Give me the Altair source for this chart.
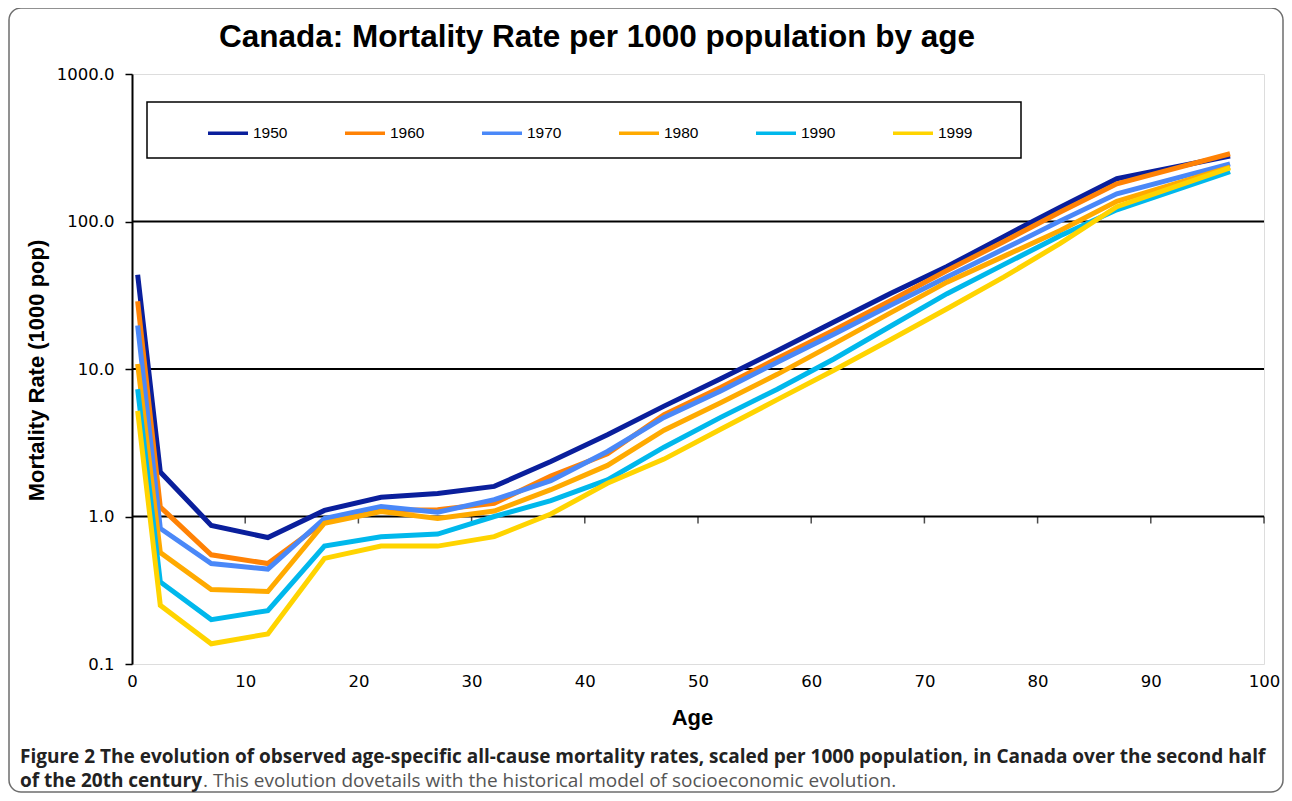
import altair as alt
import pandas as pd

# ---------------- data ----------------
ages = [0.5, 2.5, 7, 12, 17, 22, 27, 32, 37, 42, 47, 52, 57, 62, 67, 72, 77, 82, 87, 97]
years = ["1950", "1960", "1970", "1980", "1990", "1999"]
rate_1950 = [43.5, 2.0, 0.87, 0.72, 1.10, 1.35, 1.43, 1.60, 2.36, 3.58, 5.6, 8.6, 13.3, 20.8, 32.5, 49.5, 79, 125, 195, 278]
rate_1960 = [28.8, 1.16, 0.55, 0.48, 0.92, 1.10, 1.11, 1.23, 1.88, 2.66, 4.9, 7.5, 11.8, 18.3, 29, 46.5, 73, 116, 180, 288]
rate_1970 = [19.7, 0.83, 0.48, 0.44, 0.97, 1.17, 1.07, 1.30, 1.75, 2.76, 4.7, 7.1, 11.1, 17.2, 27, 42, 65, 101, 154, 246]
rate_1980 = [10.8, 0.57, 0.32, 0.31, 0.90, 1.08, 0.97, 1.09, 1.52, 2.22, 3.85, 5.9, 9.2, 14.8, 24, 38.8, 58, 87, 137, 234]
rate_1990 = [7.3, 0.36, 0.20, 0.23, 0.63, 0.73, 0.76, 1.00, 1.28, 1.77, 2.95, 4.7, 7.3, 11.7, 19.5, 32.4, 51, 80, 120, 218]
rate_1999 = [5.2, 0.25, 0.137, 0.16, 0.52, 0.63, 0.63, 0.73, 1.04, 1.68, 2.45, 3.9, 6.2, 9.8, 15.8, 25.6, 42, 71, 126, 231]
series = [rate_1950, rate_1960, rate_1970, rate_1980, rate_1990, rate_1999]
colors = ["#0A1F9C", "#FF8205", "#4A88F8", "#FFAA00", "#00B8EC", "#FFD400"]

y_ticks = [0.1, 1, 10, 100, 1000]
x_ticks = [0, 10, 20, 30, 40, 50, 60, 70, 80, 90, 100]
grid_values = [1, 10, 100]
age_tick_marks = [10, 20, 30, 40, 50, 60, 70, 80, 90, 100]

title_text = "Canada: Mortality Rate per 1000 population by age"
x_title = "Age"
y_title = "Mortality Rate (1000 pop)"
caption_bold_1 = ("Figure 2 The evolution of observed age-specific all-cause mortality rates, "
                  "scaled per 1000 population, in Canada over the second half")
caption_bold_2 = "of the 20th century"
caption_normal_2 = ". This evolution dovetails with the historical model of socioeconomic evolution."

# ---------------- tables ----------------
rows = []
for i, (yr, vals) in enumerate(zip(years, series)):
    for a, v in zip(ages, vals):
        rows.append({"age": a, "rate": v, "year": yr, "k": i})
df = pd.DataFrame(rows)
grid_df = pd.DataFrame({"g": grid_values})
tick_df = pd.DataFrame({"t": age_tick_marks})
one = pd.DataFrame({"k": [0]})

W, H = 1132, 590
x_scale = alt.Scale(domain=[0, 100], nice=False, zero=False)
y_scale = alt.Scale(type="log", domain=[0.1, 1000], nice=False)

x_axis = alt.Axis(values=x_ticks, format="d", title=x_title, domain=False, ticks=False,
                  grid=False, labelFont="DejaVu Sans", labelFontSize=16.5, labelColor="black",
                  labelPadding=9, titleFont="Liberation Sans", titleFontSize=22,
                  titleFontWeight="bold", titleColor="black", titleX=560, titleY=53,
                  titleAlign="center", titleBaseline="middle", labelFlush=False)
y_axis = alt.Axis(values=y_ticks, format=".1f", title=y_title, grid=False,
                  domainColor="black", domainWidth=2, tickColor="black", tickWidth=1.5,
                  tickSize=7, labelFont="DejaVu Sans", labelFontSize=16.5, labelColor="black",
                  labelPadding=11, titleFont="Liberation Sans", titleFontSize=22,
                  titleFontWeight="bold", titleColor="black", titleX=-96, titleY=296,
                  titleAlign="center", titleBaseline="middle", labelFlush=False)

# figure frame (outline only)
frame = alt.Chart(one).mark_rect(
    filled=False, stroke="#6e6e6e", strokeWidth=1.5, cornerRadius=12
).encode(x=alt.value(-123), x2=alt.value(1151), y=alt.value(-66), y2=alt.value(718))

# legend box
legend_box = alt.Chart(one).mark_rect(
    fill="white", stroke="black", strokeWidth=1.5
).encode(x=alt.value(15), x2=alt.value(889), y=alt.value(28), y2=alt.value(84))

grid = alt.Chart(grid_df).mark_rule(color="black", strokeWidth=2).encode(
    y=alt.Y("g:Q", scale=y_scale, axis=y_axis)
)

xticks = alt.Chart(tick_df).mark_tick(
    color="black", thickness=1.5, size=7, yOffset=3.5, orient="vertical"
).encode(
    x=alt.X("t:Q", scale=x_scale, axis=x_axis),
    y=alt.Y(datum=1, scale=y_scale, axis=y_axis),
)

lines = alt.Chart(df).mark_line(strokeWidth=5).encode(
    x=alt.X("age:Q", scale=x_scale, axis=x_axis),
    y=alt.Y("rate:Q", scale=y_scale, axis=y_axis),
    color=alt.Color("year:N", scale=alt.Scale(domain=years, range=colors),
                    legend=alt.Legend(orient="none", legendX=74, legendY=37, direction="horizontal",
                                      columns=6, symbolType="stroke", symbolSize=1600,
                                      symbolStrokeWidth=3.5, labelFont="Liberation Sans",
                                      labelFontSize=15.5, labelColor="black", labelOffset=3,
                                      columnPadding=50, title=None, padding=0)),
    order=alt.Order("age:Q"),
    detail="k:Q",
)

title = alt.Chart(one).mark_text(
    font="Liberation Sans", fontSize=31.5, fontWeight="bold", color="black",
    align="center", baseline="middle"
).encode(x=alt.value(465), y=alt.value(-36), text=alt.value(title_text))

cap1 = alt.Chart(one).mark_text(
    font="Open Sans", fontSize=19, fontWeight="bold", color="#222222",
    align="left", baseline="middle"
).encode(x=alt.value(-112), y=alt.value(683), text=alt.value(caption_bold_1))

cap2 = alt.Chart(one).mark_text(
    font="Open Sans", fontSize=19, fontWeight="bold", color="#222222",
    align="left", baseline="middle"
).encode(x=alt.value(-112), y=alt.value(707), text=alt.value(caption_bold_2))

cap3 = alt.Chart(one).mark_text(
    font="Open Sans", fontSize=19, color="#555555",
    align="left", baseline="middle"
).encode(x=alt.value(71), y=alt.value(707), text=alt.value(caption_normal_2))

chart = alt.layer(frame, legend_box, grid, xticks, lines, title, cap1, cap2, cap3).properties(
    width=W, height=H,
    autosize=alt.AutoSizeParams(type="none"),
    padding={"left": 124, "top": 66, "right": 20, "bottom": 129},
).configure_view(stroke="#7a7a7a", strokeWidth=2.5).configure(background="white")

chart.save("out.html", embed_options={"renderer": "svg", "actions": False})
